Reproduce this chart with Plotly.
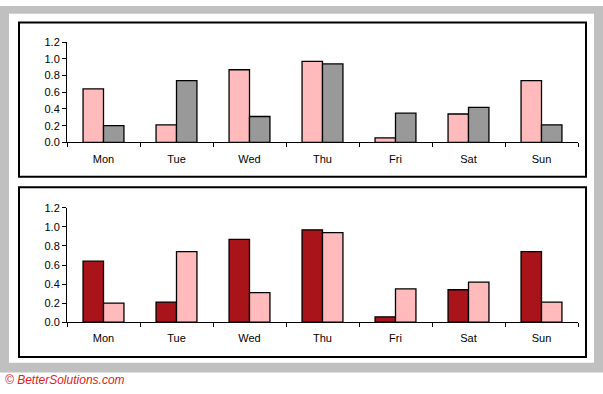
import plotly.graph_objects as go

days = ["Mon", "Tue", "Wed", "Thu", "Fri", "Sat", "Sun"]
series_a = [0.64, 0.21, 0.87, 0.97, 0.055, 0.34, 0.74]
series_b = [0.20, 0.74, 0.31, 0.94, 0.35, 0.42, 0.21]
y_ticks = [0.0, 0.2, 0.4, 0.6, 0.8, 1.0, 1.2]
y_tick_labels = ["0.0", "0.2", "0.4", "0.6", "0.8", "1.0", "1.2"]

W, H = 603, 394
def fx(px): return px / W
def fy(py): return 1 - py / H

PINK = "#FFBBBB"
GRAY = "#999999"
DARKRED = "#A8141A"
OUTLINE = dict(color="black", width=1.3)

fig = go.Figure()
fig.add_trace(go.Bar(x=days, y=series_a, marker=dict(color=PINK, line=OUTLINE), xaxis="x", yaxis="y", showlegend=False))
fig.add_trace(go.Bar(x=days, y=series_b, marker=dict(color=GRAY, line=OUTLINE), xaxis="x", yaxis="y", showlegend=False))
fig.add_trace(go.Bar(x=days, y=series_a, marker=dict(color=DARKRED, line=OUTLINE), xaxis="x2", yaxis="y2", showlegend=False))
fig.add_trace(go.Bar(x=days, y=series_b, marker=dict(color=PINK, line=OUTLINE), xaxis="x2", yaxis="y2", showlegend=False))

font = dict(family="Liberation Sans, Arial, sans-serif", size=11, color="black")
xcommon = dict(type="category", tickson="boundaries", ticks="outside", ticklen=4, tickwidth=1,
               tickcolor="black", showline=True, linecolor="black", linewidth=1,
               showgrid=False, zeroline=False, tickfont=font, fixedrange=True,
               ticklabelstandoff=6)
ycommon = dict(range=[0, 1.2], tickvals=y_ticks, ticktext=y_tick_labels, ticks="outside", ticklen=4,
               tickwidth=1, tickcolor="black", showline=True, linecolor="black", linewidth=1,
               showgrid=False, zeroline=False, tickfont=font, fixedrange=True)

fig.update_layout(
    width=W, height=H, margin=dict(l=0, r=0, t=0, b=0),
    paper_bgcolor="white", plot_bgcolor="rgba(0,0,0,0)",
    barmode="group", bargap=0.44, bargroupgap=0,
    font=font, hovermode=False,
    xaxis=dict(domain=[fx(67), fx(578)], anchor="y", **xcommon),
    yaxis=dict(domain=[fy(140.7), fy(37.3)], anchor="x", **ycommon),
    xaxis2=dict(domain=[fx(67), fx(578)], anchor="y2", **xcommon),
    yaxis2=dict(domain=[fy(326), fy(208.3)], anchor="x2", **ycommon),
    shapes=[
        dict(type="rect", xref="paper", yref="paper", x0=0, x1=1, y0=fy(378), y1=1,
             fillcolor="#C0C0C0", line=dict(width=0), layer="below"),
        dict(type="rect", xref="paper", yref="paper", x0=fx(9), x1=fx(594), y0=fy(368), y1=fy(8),
             fillcolor="white", line=dict(width=0), layer="below"),
        dict(type="rect", xref="paper", yref="paper", x0=fx(19), x1=fx(586), y0=fy(176), y1=fy(17),
             fillcolor="white", line=dict(color="black", width=2), layer="below"),
        dict(type="rect", xref="paper", yref="paper", x0=fx(19), x1=fx(586), y0=fy(362), y1=fy(187),
             fillcolor="white", line=dict(color="black", width=2), layer="below"),
    ],
    annotations=[
        dict(text="© BetterSolutions.com", xref="paper", yref="paper", x=fx(3), y=fy(386),
             xanchor="left", yanchor="middle", showarrow=False,
             font=dict(family="Liberation Sans, Arial, sans-serif", size=12, color="#E02020", style="italic")),
    ],
)

fig.write_html("out.html", config={"displayModeBar": False},
               post_script="document.body.style.margin='0';document.body.style.overflow='hidden';")
